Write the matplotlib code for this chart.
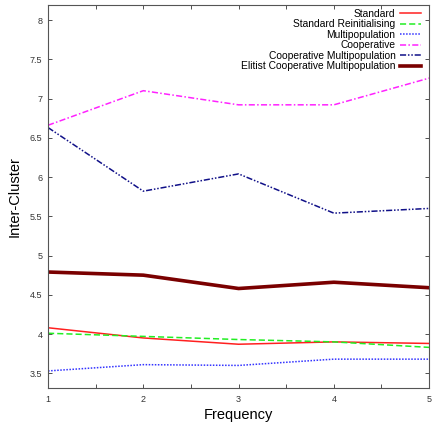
import matplotlib
matplotlib.use("Agg")
import matplotlib.pyplot as plt
from matplotlib.ticker import MultipleLocator

plt.rcParams["font.family"] = ["Liberation Sans", "DejaVu Sans"]

frequency = [1, 2, 3, 4, 5]
standard = [4.08, 3.95, 3.87, 3.90, 3.88]
standard_reinit = [4.01, 3.97, 3.93, 3.90, 3.83]
multipopulation = [3.53, 3.61, 3.60, 3.68, 3.68]
cooperative = [6.66, 7.10, 6.92, 6.92, 7.26]
coop_multi = [6.63, 5.82, 6.04, 5.54, 5.60]
elitist_coop_multi = [4.79, 4.75, 4.58, 4.66, 4.59]

series = [
    ("Standard", standard, dict(color="#ff2020", lw=1.1, ls="-")),
    ("Standard Reinitialising", standard_reinit, dict(color="#22ee22", lw=1.1, ls=(0, (4, 2)))),
    ("Multipopulation", multipopulation, dict(color="#3333ff", lw=1.1, ls=(0, (1, 1)))),
    ("Cooperative", cooperative, dict(color="#ff22ff", lw=1.1, ls=(0, (4, 1.5, 1, 1.5)))),
    ("Cooperative Multipopulation", coop_multi, dict(color="#101088", lw=1.1, ls=(0, (4, 1.2, 1, 1.2, 1, 1.2)))),
    ("Elitist Cooperative Multipopulation", elitist_coop_multi, dict(color="#7a0000", lw=2.6, ls="-")),
]

fig = plt.figure(figsize=(4.33, 4.28), dpi=100)
ax = fig.add_axes([0.111, 0.093, 0.880, 0.895])

for label, values, style in series:
    ax.plot(frequency, values, label=label, **style)

ax.set_xlim(1, 5)
ax.set_ylim(3.31, 8.19)
ax.xaxis.set_major_locator(MultipleLocator(1))
ax.xaxis.set_minor_locator(MultipleLocator(0.5))
ax.yaxis.set_major_locator(MultipleLocator(0.5))
ax.tick_params(axis="both", which="both", direction="in", top=True, right=True,
               labelsize=6.5, colors="#333333", length=3, width=0.6)
ax.tick_params(axis="x", pad=5)
ax.tick_params(axis="y", pad=4)
ax.yaxis.set_major_formatter(plt.FuncFormatter(lambda v, p: f"{v:g}"))
for sp in ax.spines.values():
    sp.set_color("#555555")
    sp.set_linewidth(0.8)

ax.set_xlabel("Frequency", fontsize=10.5, labelpad=3)
ax.set_ylabel("Inter-Cluster", fontsize=10.5, labelpad=6)

leg = ax.legend(loc="upper right", bbox_to_anchor=(0.979, 0.991), frameon=False,
                markerfirst=False, fontsize=7.4, handlelength=2.1, handletextpad=0.4,
                labelspacing=0.05, borderaxespad=0.0, borderpad=0.0)
for t in leg.get_texts():
    t.set_ha("right")

fig.savefig("out.png", dpi=100)
